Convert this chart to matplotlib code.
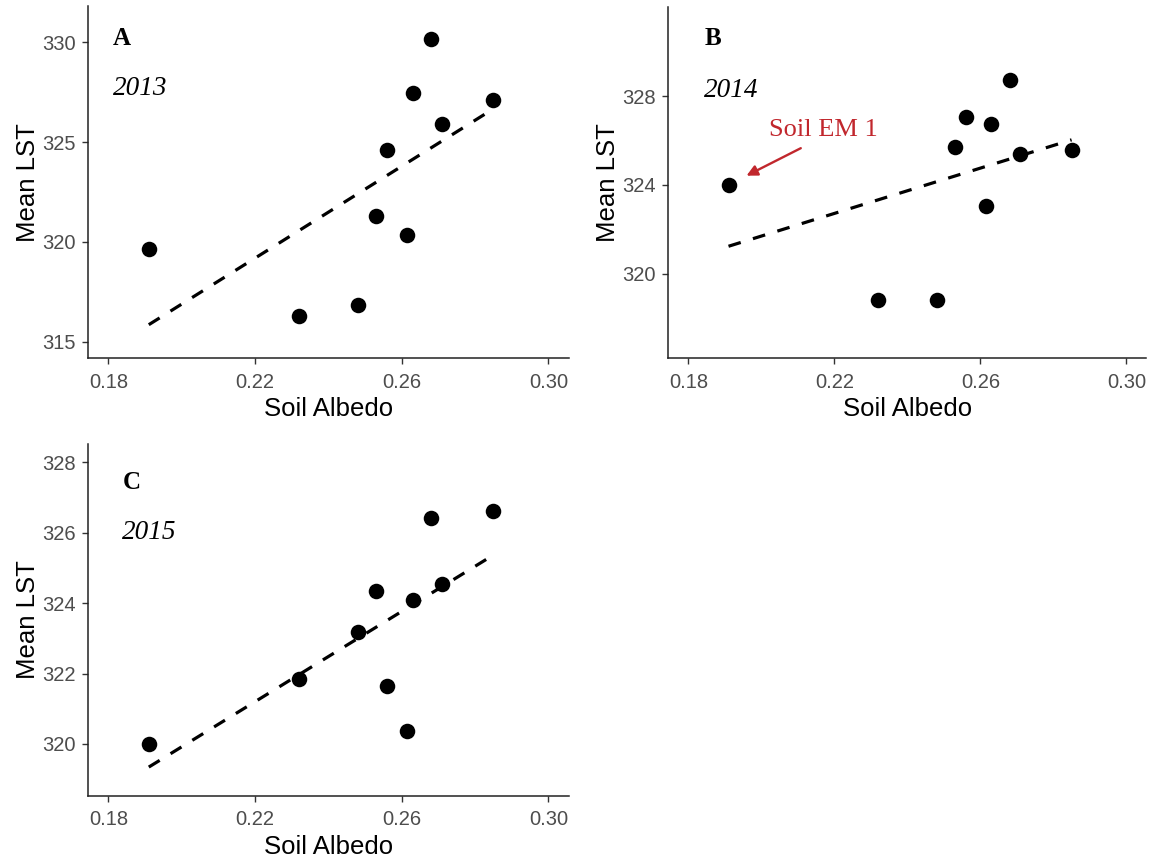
import numpy as np
import matplotlib
matplotlib.use("Agg")
import matplotlib.pyplot as plt
import matplotlib.font_manager as fm

# soil albedo of the ten soils, same in every year
albedo = [0.191, 0.232, 0.248, 0.253, 0.256, 0.2615, 0.263, 0.268, 0.271, 0.285]

# mean land surface temperature per soil and year
lst_2013 = [319.66, 316.27, 316.84, 321.32, 324.62, 320.35, 327.46, 330.17, 325.89, 327.13]
lst_2014 = [324.0, 318.82, 318.82, 325.71, 327.04, 323.06, 326.72, 328.74, 325.40, 325.55]
lst_2015 = [320.0, 321.85, 323.19, 324.34, 321.66, 320.38, 324.09, 326.42, 324.53, 326.61]

panel_letters = ["A", "B", "C"]
years = ["2013", "2014", "2015"]
x_ticks = [0.18, 0.22, 0.26, 0.30]
y_ticks_2013 = [315, 320, 325, 330]
y_ticks_2014 = [320, 324, 328]
y_ticks_2015 = [320, 322, 324, 326, 328]

W, H = 1150, 863

names = {f.name for f in fm.fontManager.ttflist}
if "Liberation Sans Narrow" in names:
  sans = "Liberation Sans Narrow"
  tick_size, label_size = 15.5, 21
else:
  sans = "Liberation Sans"
  tick_size, label_size = 14.5, 18.5
serif = "Liberation Serif"
red = "#C1272D"

fig = plt.figure(figsize=(W / 100, H / 100), dpi=100)

def px_axes(left, top, right, bottom):
  return fig.add_axes([left / W, 1 - bottom / H, (right - left) / W, (bottom - top) / H])

def draw_panel(ax, lst, yticks, ylim, letter, year, letter_pos, year_pos):
  x = np.array(albedo)
  y = np.array(lst)
  ax.scatter(x, y, s=125, color="black", zorder=3, linewidths=0)
  slope, icpt = np.polyfit(x, y, 1)
  xl = np.array([x.min(), x.max()])
  ax.plot(xl, slope * xl + icpt, color="black", lw=2.3, linestyle=(0, (4, 4)), zorder=2)

  ax.set_xlim(0.1745, 0.3055)
  ax.set_ylim(*ylim)
  ax.set_xticks(x_ticks)
  ax.set_xticklabels(["%.2f" % t for t in x_ticks])
  ax.set_yticks(yticks)
  ax.set_yticklabels([str(t) for t in yticks])
  for s in ["top", "right"]:
    ax.spines[s].set_visible(False)
  for s in ["left", "bottom"]:
    ax.spines[s].set_linewidth(1.1)
    ax.spines[s].set_color("#222222")
  ax.tick_params(axis="both", length=4.3, width=1.0, color="#333333",
                 labelcolor="#4D4D4D", labelsize=tick_size)
  ax.tick_params(axis="x", pad=6.0)
  ax.tick_params(axis="y", pad=5.0)
  for lab in ax.get_xticklabels() + ax.get_yticklabels():
    lab.set_family(sans)
  ax.set_xlabel("Soil Albedo", family=sans, size=label_size, labelpad=4)
  ax.set_ylabel("Mean LST", family=sans, size=label_size, labelpad=1)

  ax.text(letter_pos[0], letter_pos[1], letter, transform=ax.transAxes,
          family=serif, weight="bold", size=18, va="baseline", ha="left")
  ax.text(year_pos[0], year_pos[1], year, transform=ax.transAxes,
          family=serif, style="italic", size=19.5, va="baseline", ha="left")

ax_a = px_axes(88.3, 6.4, 568.6, 358.3)
draw_panel(ax_a, lst_2013, y_ticks_2013, (314.17, 331.8),
           panel_letters[0], years[0], (0.051, 0.890), (0.051, 0.748))

ax_b = px_axes(668.3, 7.3, 1146.4, 358.3)
draw_panel(ax_b, lst_2014, y_ticks_2014, (316.18, 332.0),
           panel_letters[1], years[1], (0.077, 0.893), (0.075, 0.744))

ax_c = px_axes(88.3, 444.0, 568.6, 795.7)
draw_panel(ax_c, lst_2015, y_ticks_2015, (318.53, 328.52),
           panel_letters[2], years[2], (0.072, 0.872), (0.070, 0.730))

# mark the first soil end member in 2014
ax_b.annotate("", xy=(albedo[0], lst_2014[0]), xytext=(0.2108, 325.65),
              arrowprops=dict(arrowstyle="-|>", color=red, lw=1.7,
                              shrinkA=0, shrinkB=14.5, mutation_scale=16))
ax_b.text(0.2171, 326.22, "Soil EM 1", color=red, family=serif, size=19,
          ha="center", va="baseline")

fig.savefig("out.png", dpi=100)
